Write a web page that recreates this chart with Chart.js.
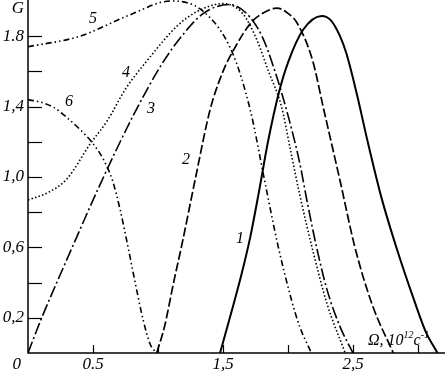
<!DOCTYPE html>
<html>
<head>
<meta charset="utf-8">
<script src="https://cdn.jsdelivr.net/npm/chart.js@4.4.0/dist/chart.umd.min.js"></script>
<style>
  html, body { margin: 0; padding: 0; background: #fff; }
  #wrap { width: 445px; height: 374px; }
</style>
</head>
<body>
<div id="wrap"><canvas id="chart" width="445" height="374"></canvas></div>
<script>
// values; x is Omega in 10^12 c^-1, y is G
const x1 = [1.477, 1.56, 1.64, 1.71, 1.78, 1.846, 1.93, 2.0, 2.115, 2.26, 2.33, 2.40, 2.45, 2.53, 2.61, 2.72, 2.84, 2.97, 3.06, 3.15];
const g1 = [0, 0.22, 0.44, 0.66, 0.93, 1.2, 1.48, 1.65, 1.835, 1.915, 1.89, 1.80, 1.70, 1.47, 1.21, 0.88, 0.585, 0.3, 0.12, 0];

const x2 = [0.99, 1.05, 1.12, 1.185, 1.29, 1.4, 1.5, 1.58, 1.72, 1.83, 1.915, 2.0, 2.07, 2.19, 2.27, 2.4, 2.515, 2.65, 2.81];
const g2 = [0, 0.15, 0.4, 0.62, 1.0, 1.38, 1.6, 1.72, 1.88, 1.94, 1.96, 1.93, 1.875, 1.66, 1.40, 0.98, 0.6, 0.27, 0];

const x3 = [0, 0.1, 0.34, 0.55, 0.81, 1.02, 1.15, 1.35, 1.55, 1.68, 1.8, 1.9, 2.0, 2.09, 2.15, 2.22, 2.3, 2.4, 2.5];
const g3 = [0, 0.19, 0.6, 0.95, 1.35, 1.63, 1.77, 1.93, 1.98, 1.93, 1.8, 1.6, 1.35, 1.08, 0.85, 0.6, 0.36, 0.15, 0];

const x4 = [0, 0.15, 0.3, 0.48, 0.61, 0.75, 0.915, 1.15, 1.3, 1.5, 1.65, 1.76, 1.85, 1.95, 2.02, 2.09, 2.19, 2.3, 2.44];
const g4 = [0.87, 0.91, 0.99, 1.19, 1.32, 1.5, 1.66, 1.86, 1.94, 1.985, 1.93, 1.78, 1.6, 1.4, 1.15, 0.9, 0.585, 0.28, 0];

const x5 = [0, 0.4, 0.78, 1.1, 1.35, 1.57, 1.71, 1.82, 1.92, 2.02, 2.09, 2.18];
const g5 = [1.74, 1.80, 1.92, 2.0, 1.94, 1.71, 1.38, 0.98, 0.62, 0.32, 0.15, 0];

const x6 = [0, 0.12, 0.21, 0.28, 0.4, 0.5, 0.58, 0.65, 0.71, 0.77, 0.83, 0.885, 0.94, 0.99];
const g6 = [1.44, 1.42, 1.39, 1.35, 1.27, 1.19, 1.1, 0.98, 0.81, 0.6, 0.38, 0.19, 0.05, 0];

const xTicks = [0.5, 1, 1.5, 2, 2.5, 3];
const xTickLabels = ['0.5', '', '1,5', '', '2,5', ''];
const yTicks = [0.2, 0.4, 0.6, 0.8, 1.0, 1.2, 1.4, 1.6, 1.8];
const yTickLabels = ['0,2', '', '0,6', '', '1,0', '', '1,4', '', '1.8'];

const curveNames = ['1', '2', '3', '4', '5', '6'];
const curveNameAt = [[1.63, 0.65], [1.215, 1.10], [0.946, 1.39], [0.754, 1.59], [0.5, 1.90], [0.315, 1.426]];

function pts(xs, ys) {
  return xs.map((v, i) => ({ x: v, y: ys[i] }));
}

function curve(xs, ys, dash, width) {
  return {
    data: pts(xs, ys),
    borderColor: '#000',
    borderWidth: width,
    borderDash: dash,
    pointRadius: 0,
    cubicInterpolationMode: 'monotone',
    fill: false
  };
}

const serif = '"Liberation Serif", "DejaVu Serif", serif';

const axesPlugin = {
  id: 'axes',
  afterDraw(chart) {
    const ctx = chart.ctx;
    const xs = chart.scales.x;
    const ys = chart.scales.y;
    const x0 = xs.getPixelForValue(0);
    const y0 = ys.getPixelForValue(0);

    ctx.save();
    ctx.strokeStyle = '#000';
    ctx.fillStyle = '#000';
    ctx.lineWidth = 1.5;

    // axis lines
    ctx.beginPath();
    ctx.moveTo(x0, 0);
    ctx.lineTo(x0, y0);
    ctx.lineTo(chart.width, y0);
    ctx.stroke();

    // y ticks point inwards
    ctx.lineWidth = 1.2;
    yTicks.forEach(v => {
      const p = Math.round(ys.getPixelForValue(v)) + 0.5;
      ctx.beginPath();
      ctx.moveTo(x0, p);
      ctx.lineTo(x0 + 14, p);
      ctx.stroke();
    });
    xTicks.forEach(v => {
      const p = Math.round(xs.getPixelForValue(v)) + 0.5;
      ctx.beginPath();
      ctx.moveTo(p, y0);
      ctx.lineTo(p, y0 - 8);
      ctx.stroke();
    });

    ctx.font = 'italic 17px ' + serif;
    ctx.textBaseline = 'middle';
    ctx.textAlign = 'right';
    yTicks.forEach((v, i) => {
      if (yTickLabels[i]) ctx.fillText(yTickLabels[i], 24, ys.getPixelForValue(v));
    });
    ctx.fillText('0', 21, 365);
    ctx.textAlign = 'center';
    xTicks.forEach((v, i) => {
      if (xTickLabels[i]) ctx.fillText(xTickLabels[i], xs.getPixelForValue(v), 365);
    });
    ctx.fillText('G', 18, 9);

    // curve numbers
    ctx.font = 'italic 16px ' + serif;
    curveNames.forEach((t, i) => {
      ctx.fillText(t, xs.getPixelForValue(curveNameAt[i][0]), ys.getPixelForValue(curveNameAt[i][1]));
    });

    // axis title  Ω, 10^12 с^-1
    ctx.textAlign = 'left';
    ctx.textBaseline = 'alphabetic';
    let tx = 368;
    const base = 345;
    ctx.font = 'italic 16px ' + serif;
    ctx.fillText('Ω, 10', tx, base);
    tx += ctx.measureText('Ω, 10').width;
    ctx.font = 'italic 10px ' + serif;
    ctx.fillText('12', tx, base - 7);
    tx += ctx.measureText('12').width;
    ctx.font = 'italic 16px ' + serif;
    ctx.fillText('с', tx, base);
    tx += ctx.measureText('с').width;
    ctx.font = 'italic 10px ' + serif;
    ctx.fillText('-1', tx, base - 7);
    ctx.restore();
  }
};

new Chart(document.getElementById('chart').getContext('2d'), {
  type: 'line',
  data: {
    datasets: [
      curve(x1, g1, [], 2),
      curve(x2, g2, [9, 3], 1.7),
      curve(x3, g3, [12, 3, 2, 3], 1.6),
      curve(x4, g4, [1.5, 2.2], 1.6),
      curve(x5, g5, [6, 3, 1.5, 3, 1.5, 3], 1.6),
      curve(x6, g6, [6, 3, 1.5, 3, 1.5, 3], 1.6)
    ]
  },
  options: {
    responsive: false,
    animation: false,
    layout: { padding: { left: 28, right: 0, top: 0, bottom: 21 } },
    plugins: { legend: { display: false }, tooltip: { enabled: false } },
    scales: {
      x: { type: 'linear', min: 0, max: 417 / 130, display: false },
      y: { min: 0, max: 353 / 176, display: false }
    }
  },
  plugins: [axesPlugin]
});
</script>
</body>
</html>
